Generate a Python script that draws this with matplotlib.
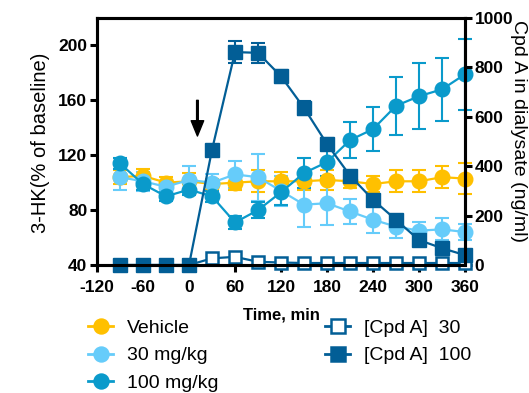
import matplotlib.pyplot as plt
from matplotlib.lines import Line2D

plt.rcParams["font.family"] = ["Liberation Sans", "DejaVu Sans"]
plt.rcParams["axes.unicode_minus"] = False

# time points (min)
time = [-90, -60, -30, 0, 30, 60, 90, 120, 150, 180, 210, 240, 270, 300, 330, 360]

# 3-HK (% of baseline), left axis
vehicle = [104, 105, 100, 101, 99, 100, 101, 101, 101, 102, 101, 99, 101, 101, 104, 103]
vehicle_err = [5, 5, 4, 6, 4, 5, 8, 7, 6, 7, 5, 6, 8, 8, 8, 11]
mg30 = [104, 101, 97, 102, 100, 106, 104, 94, 84, 85, 79, 73, 68, 65, 66, 64]
mg30_err = [9, 7, 4, 10, 6, 10, 17, 11, 16, 16, 9, 10, 8, 6, 8, 6]
mg100 = [114, 99, 90, 95, 90, 71, 80, 93, 107, 115, 131, 139, 156, 163, 168, 179]
mg100_err = [4, 4, 3, 4, 4, 5, 6, 9, 11, 10, 13, 16, 21, 24, 23, 26]

# Cpd A in dialysate (ng/ml), right axis
cpd30 = [0, 0, 0, 0, 27, 33, 13, 10, 8, 8, 8, 8, 8, 8, 8, 8]
cpd100 = [0, 0, 0, 0, 466, 862, 859, 764, 636, 490, 362, 264, 183, 101, 68, 40]
cpd100_err = [0, 0, 0, 0, 15, 43, 40, 27, 27, 25, 20, 15, 12, 8, 10, 8]

c_veh = "#FFC000"
c_30 = "#66CCFA"
c_100 = "#0A9ACB"
c_cpd = "#025E96"

fig = plt.figure(figsize=(5.29, 3.93), dpi=100)
ax = fig.add_axes([97 / 529, 1 - 265 / 393, 368 / 529, 247 / 393])
ax2 = ax.twinx()

kw = dict(marker="o", markersize=10.5, linewidth=1.6, capsize=4.8,
          elinewidth=1.5, capthick=1.5, clip_on=False)
for y, e, c in [(vehicle, vehicle_err, c_veh), (mg30, mg30_err, c_30),
                (mg100, mg100_err, c_100)]:
    ax.errorbar(time, y, yerr=e, color=c, **kw)

ax2.plot(time, cpd30, marker="s", markersize=9, markerfacecolor="white",
         markeredgewidth=1.8, color=c_cpd, linewidth=1.6, clip_on=False)
ax2.errorbar(time, cpd100, yerr=cpd100_err, marker="s", markersize=10,
             color=c_cpd, linewidth=1.6, capsize=4.8, elinewidth=1.5,
             capthick=1.5, clip_on=False)

# dosing arrow
ax.annotate("", xy=(11, 134), xytext=(11, 160),
            arrowprops=dict(facecolor="black", edgecolor="black", width=1.2,
                            headwidth=9, headlength=11, shrink=0))

ax.set_xlim(-120, 360)
ax.set_ylim(40, 220)
ax2.set_ylim(0, 1000)
ax.set_xticks(range(-120, 361, 60))
ax.set_yticks(range(40, 201, 40))
ax2.set_yticks(range(0, 1001, 200))

for a in (ax, ax2):
    for s in a.spines.values():
        s.set_linewidth(2.2)
    a.tick_params(width=2.2, length=5, labelsize=12.5, pad=2)
    for lab in a.get_xticklabels() + a.get_yticklabels():
        lab.set_fontweight("bold")
ax.tick_params(axis="x", pad=6)

ax.set_xlabel("Time, min", fontsize=12, fontweight="bold", labelpad=9)
fig.text(41 / 529, 1 - 143 / 393, "3-HK(% of baseline)", rotation=90,
         ha="center", va="center", fontsize=14.5)
fig.text(519 / 529, 1 - 131 / 393, "Cpd A in dialysate (ng/ml)", rotation=270,
         ha="center", va="center", fontsize=14)

def handle(c, m, face=None):
    return Line2D([], [], color=c, marker=m, markersize=10, linewidth=2,
                  markerfacecolor=face or c, markeredgewidth=1.8)

leg_kw = dict(frameon=False, fontsize=14, handlelength=1.3,
              handletextpad=0.72, labelspacing=0.52, borderpad=0,
              borderaxespad=0, loc="upper left")
fig.legend([handle(c_veh, "o"), handle(c_30, "o"), handle(c_100, "o")],
           ["Vehicle", "30 mg/kg", "100 mg/kg"],
           bbox_to_anchor=(88 / 529, 1 - 319 / 393), **leg_kw)
fig.legend([handle(c_cpd, "s", "white"), handle(c_cpd, "s")],
           ["[Cpd A]  30", "[Cpd A]  100"],
           bbox_to_anchor=(325 / 529, 1 - 319 / 393), **leg_kw)

fig.savefig("out.png", dpi=100)
